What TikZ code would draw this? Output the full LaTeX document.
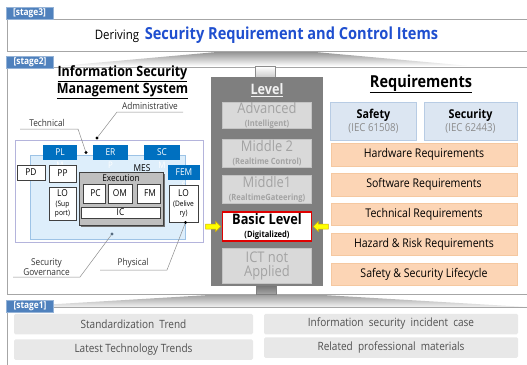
\documentclass[tikz,border=0pt]{standalone}
\usepackage{fontspec}
\setmainfont{Open Sans}[FakeStretch=0.88]
\usetikzlibrary{shadows}

\definecolor{tabblue}{HTML}{4F81BD}
\definecolor{titleblue}{HTML}{1F4FCF}
\definecolor{framegray}{HTML}{A6A6A6}
\definecolor{lvlbg}{HTML}{7F7F7F}
\definecolor{lvlfill}{HTML}{D9D9D9}
\definecolor{lvlline}{HTML}{C4C4C4}
\definecolor{lvltext}{HTML}{A3A3A3}
\definecolor{basicred}{HTML}{E00000}
\definecolor{msblue}{HTML}{0070C0}
\definecolor{mesfill}{HTML}{DDEEFB}
\definecolor{mesline}{HTML}{9DC3E6}
\definecolor{ismsline}{HTML}{B4B4DC}
\definecolor{execfill}{HTML}{BFBFBF}
\definecolor{stdfill}{HTML}{DCE6F2}
\definecolor{stdline}{HTML}{B8CCE4}
\definecolor{peach}{HTML}{FCD5B5}
\definecolor{peachline}{HTML}{F5C8A0}
\definecolor{infofill}{HTML}{E8E8E8}
\definecolor{infotext}{HTML}{505050}
\definecolor{leadergray}{HTML}{8C8C8C}
\definecolor{arrowyellow}{HTML}{FFFF00}
\definecolor{arrowedge}{HTML}{D4B000}

\newcommand{\fsz}[1]{\fontsize{#1}{#1}\selectfont}

\begin{document}
\begin{tikzpicture}[x=1pt,y=-1pt,
  stagebox/.style={draw=framegray, line width=1.3pt, anchor=north west, inner sep=0},
  stagetab/.style={fill=tabblue, draw=tabblue!60!white, line width=0.6pt, text=white,
    font=\bfseries\fsz{9.5}, minimum width=47, minimum height=12, inner sep=0},
  lvlbox/.style={fill=lvlfill, draw=lvlline, line width=0.6pt, text=lvltext,
    minimum width=89, inner sep=0, align=center},
  stdbox/.style={fill=stdfill, draw=stdline, line width=0.6pt, minimum height=38,
    inner sep=0, align=center},
  reqbox/.style={fill=peach, draw=peachline, line width=0.4pt, minimum width=186,
    minimum height=22.5, inner sep=0, font=\fsz{12}},
  infobox/.style={fill=infofill, rounded corners=1.5pt, text=infotext,
    minimum height=20.5, inner sep=0, font=\fsz{11.4}},
  bluebox/.style={fill=msblue, text=white, minimum height=15, inner sep=0, font=\fsz{9.5}},
  ghost/.style={text=white, font=\fsz{9}, inner sep=0},
  wbox/.style={fill=white, draw=black!75, line width=0.6pt, inner sep=0, align=center,
    font=\fsz{9.5}},
  leader/.style={draw=leadergray, line width=0.5pt},
  leadlabel/.style={text=black!80, font=\fsz{9.4}, inner sep=0, align=center},
  yarrow/.style={fill=arrowyellow, draw=arrowedge, line width=0.5pt},
  dotmark/.style={fill=black, circle, inner sep=0, minimum size=3.2}
]
\useasboundingbox (0,0) rectangle (527,364);

% ---------- funnels between the stages ----------
\shade[top color=black!45, bottom color=white]
  (228,51) -- (304,51) -- (470,66) -- (60,66) -- cycle;
\shade[top color=black!40, bottom color=white!95!black]
  (226,294) -- (306,294) -- (527,307) -- (7,307) -- cycle;

% ---------- stage frames ----------
\node[stagebox, minimum width=523, minimum height=32] (s3) at (7,19) {};
\node[stagebox, minimum width=523, minimum height=227] (s2) at (7,67) {};
\node[stagebox, minimum width=523, minimum height=60] (s1) at (7,307) {};

% stems linking the level column to the frames
\node[top color=white, bottom color=black!20, draw=black!45, line width=0.5pt,
  minimum width=20, minimum height=11, inner sep=0, anchor=north] (stemT) at (265.5,66) {};
\node[top color=black!55, bottom color=black!35, draw=black!50, line width=0.5pt,
  minimum width=20, minimum height=9, inner sep=0, anchor=north] (stemB) at (266,285) {};

% ---------- stage 3 ----------
\node[stagetab] (t3) at (29.5,13) {[stage3]};
\node[font=\fsz{13}, inner sep=0] (deriving) at (117,36.5) {Deriving};
\node[text=titleblue, font=\bfseries\fsz{16.6}, inner sep=0] (title) at (291.5,35.5)
  {Security Requirement and Control Items};

% ---------- stage 2 ----------
\node[stagetab] (t2) at (30,62) {[stage2]};

% ISMS heading
\node[font=\bfseries\fontsize{14.2}{15.5}\selectfont, align=center, inner sep=0] (ismsT) at (122.5,82.5)
  {\underline{Information Security}\\\underline{Management System}};

% ISMS drawing
\node[draw=ismsline, fill=white, line width=0.7pt, anchor=north west,
  minimum width=188, minimum height=102, inner sep=0] (isms) at (15,140) {};
\node[draw=mesline, fill=mesfill, line width=0.6pt, anchor=north west,
  minimum width=155, minimum height=84, inner sep=0] (mes) at (30,155) {};

\node[ghost] (plG) at (60,165) {M};
\node[ghost] (erG) at (110.5,165) {P};
\node[ghost] (scG) at (162,165) {M};
\node[ghost] (femG) at (184,185) {S};
\node[bluebox, minimum width=34] (pl) at (60,152.5) {PL};
\node[bluebox, minimum width=35] (er) at (110.5,152.5) {ER};
\node[bluebox, minimum width=36] (sc) at (162,152.5) {SC};
\node[bluebox, minimum width=32] (fem) at (184,172.5) {FEM};
\node[font=\fsz{9.5}, inner sep=0] (meslab) at (142,168) {MES};

\node[wbox, minimum width=28, minimum height=15] (pd) at (31,172.5) {PD};
\node[wbox, minimum width=27, minimum height=17] (pp) at (62.5,173.5) {PP};
\node[wbox, minimum width=27, minimum height=33, font=\fontsize{7.5}{8.8}\selectfont] (los) at (62.5,203.5)
  {{\fsz{9.5}LO}\\[0.5pt](Sup\\port)};

\node[fill=execfill, draw=black!75, line width=0.7pt, minimum width=84, minimum height=53,
  inner sep=0, drop shadow={shadow xshift=2pt, shadow yshift=-2pt, fill=black!55, opacity=1}]
  (exec) at (121,198.5) {};
\node[font=\fsz{9.3}, inner sep=0] (execlab) at (121,178.5) {Execution};
\node[wbox, minimum width=22, minimum height=19] (pc) at (94,193.5) {\hspace*{3pt}PC};
\node[wbox, minimum width=24, minimum height=19] (om) at (120,193.5) {OM};
\node[wbox, minimum width=23, minimum height=19] (fm) at (148.5,193.5) {\hspace*{3pt}FM};
\node[wbox, minimum width=79, minimum height=11] (ic) at (120.5,212.5) {IC};
\node[wbox, minimum width=29, minimum height=37, font=\fontsize{7.5}{8.8}\selectfont] (lod) at (183.5,203.5)
  {{\fsz{9.5}LO}\\[0.5pt](Delive\\ry)};

% control-type call-outs
\node[dotmark] (admdot) at (97,138) {};
\node[dotmark] (techdot) at (86,152.5) {};
\node[dotmark, fill=black!45!mesline] (govdot) at (112,234) {};
\node[dotmark] (physdot) at (185.5,222.5) {};

\coordinate (admL) at (117,112);  \coordinate (admR) at (183,112);
\coordinate (techL) at (20,129);  \coordinate (techR) at (78,129);
\coordinate (govL) at (13,277);   \coordinate (govR) at (80,277);
\coordinate (physL) at (100,270); \coordinate (physR) at (167,270);

\node[leadlabel] (admlab) at (150,105.5) {Administrative};
\node[leadlabel] (techlab) at (47,122.5) {Technical};
\node[leadlabel, font=\fontsize{9.4}{10}\selectfont] (govlab) at (46.5,267) {Security\\Governance};
\node[leadlabel] (physlab) at (133,263.5) {Physical};

\draw[leader] (admR) -- (admL) -- (admdot);
\draw[leader] (techL) -- (techR) -- (techdot);
\draw[leader] (govL) -- (govR) -- (govdot);
\draw[leader] (physL) -- (physR) -- (physdot);

% Level column
\node[fill=lvlbg, anchor=north west, minimum width=112, minimum height=209, inner sep=0]
  (level) at (211,77) {};
\node[text=black!5, font=\bfseries\fsz{14.4}, inner sep=0] (levellab) at (267,90) {\underline{Level}};
\node[lvlbox, minimum height=25] (adv) at (267,115.5)
  {{\fsz{14.7}Advanced}\\[0.5pt]{\bfseries\fsz{8.6}(Intelligent)}};
\node[lvlbox, minimum height=28] (mid2) at (267,153)
  {{\fsz{14.7}Middle 2}\\[1pt]{\bfseries\fsz{8.6}(Realtime Control)}};
\node[lvlbox, minimum height=28] (mid1) at (267,189)
  {{\fsz{14.7}Middle1}\\[1pt]{\bfseries\fsz{8.6}(RealtimeGateering)}};
\node[lvlbox, fill=white, draw=basicred, line width=1.6pt, text=black, minimum height=29] (basic) at (267,226.5)
  {{\bfseries\fsz{14.5}Basic Level}\\[1pt]{\bfseries\fsz{8.6}(Digitalized)}};
\node[lvlbox, minimum height=35, font=\fontsize{14.7}{14}\selectfont] (ict) at (267,265.5)
  {ICT not\\Applied};

% yellow pointers on the current level
\draw[yarrow] ([xshift=-1pt]basic.west) -- ++(-5,-5) -- ++(0,2.5) -- ++(-10,0)
  -- ++(0,5) -- ++(10,0) -- ++(0,2.5) -- cycle;
\draw[yarrow] ([xshift=1pt]basic.east) -- ++(5,-5) -- ++(0,2.5) -- ++(10,0)
  -- ++(0,5) -- ++(-10,0) -- ++(0,2.5) -- cycle;

% Requirements column
\node[font=\bfseries\fsz{16.5}, inner sep=0] (reqT) at (421,84) {\underline{Requirements}};
\node[stdbox, minimum width=86] (safety) at (373.5,121)
  {{\bfseries\fsz{12.2}Safety}\\[1.5pt]{\color{black!45}\fsz{11}(IEC 61508)}};
\node[stdbox, minimum width=93] (security) at (470.5,121)
  {{\bfseries\fsz{12.2}Security}\\[1.5pt]{\color{black!45}\fsz{11}(IEC 62443)}};
\node[reqbox] (hw) at (424,154.5) {Hardware Requirements};
\node[reqbox] (sw) at (424,184.5) {Software Requirements};
\node[reqbox] (tech) at (424,214) {Technical Requirements};
\node[reqbox] (hazard) at (424,244) {Hazard \& Risk Requirements};
\node[reqbox] (life) at (424,274) {Safety \& Security Lifecycle};

% ---------- stage 1 ----------
\node[stagetab] (t1) at (30,306) {[stage1]};
\node[infobox, minimum width=239] (std) at (133.5,324) {Standardization\ \ Trend};
\node[infobox, minimum width=239] (latest) at (133.5,349.5) {Latest\ Technology\ Trends};
\node[infobox, minimum width=254] (incident) at (391,324) {Information\ \ security\ \ incident\ \ case};
\node[infobox, minimum width=254] (related) at (391,347.5) {Related\ \ professional\ \ materials};

\end{tikzpicture}
\end{document}
